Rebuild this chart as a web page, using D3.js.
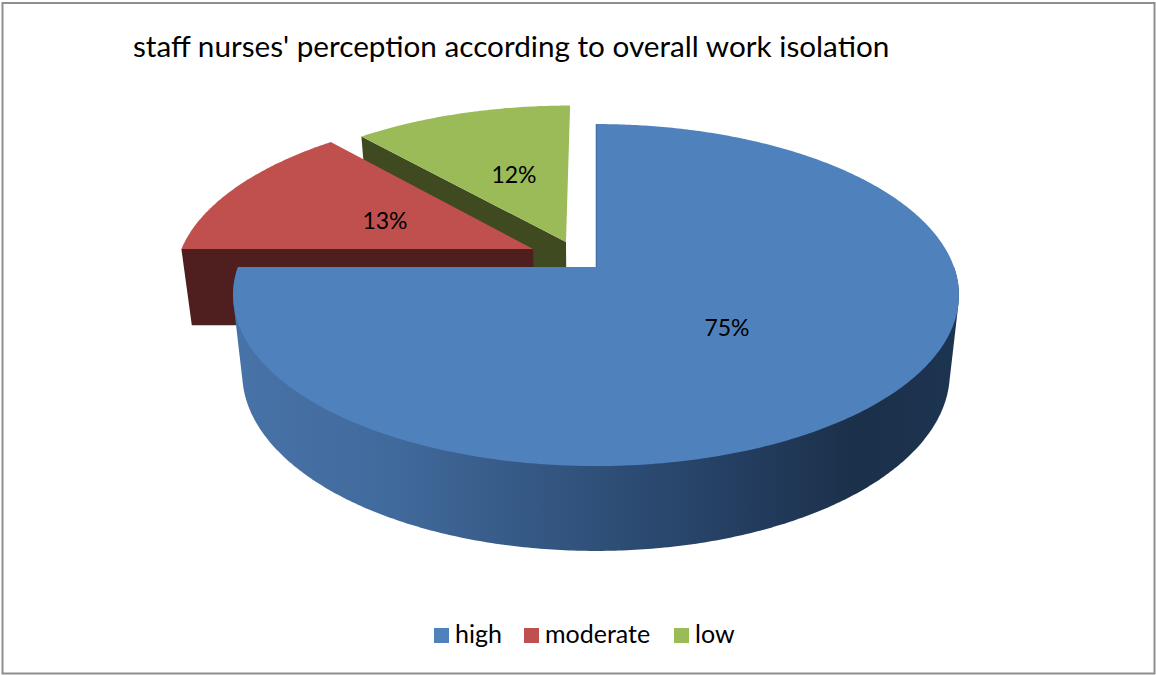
<!DOCTYPE html>
<html><head><meta charset="utf-8">
<script src="https://cdn.jsdelivr.net/npm/d3@7/dist/d3.min.js"></script>
<style>html,body{margin:0;padding:0;background:#fff}svg{display:block}text{font-family:Lato,"Noto Sans",sans-serif;fill:#000}</style>
</head><body><svg id="c" width="1156" height="675"></svg>
<script>
const chartTitle = "staff nurses' perception according to overall work isolation";
const categories = ["high", "moderate", "low"];
const values = [75, 13.4, 11.6];
const labels = ["75%", "13%", "12%"];
const topColors = ["#4f81bd", "#c0504d", "#9bbb59"];
const wallColors = ["#1c3250", "#4e1f1e", "#3f4a21"];
const explodeU = [0, -0.179, -0.086];
const explodeV = [0, 0.11, 0.154];
const labelPos = [[727, 336], [385, 229], [514, 183]];
const legendX = [434, 524, 674];

const W = 1156, H = 675, TAU = Math.PI * 2;
const svg = d3.select("#c");
const defs = svg.append("defs");
const grad = defs.append("linearGradient").attr("id", "wall").attr("x1", 0).attr("x2", 1).attr("y1", 0).attr("y2", 0);
[[0, "#4873a8"], [0.22, "#416a9c"], [0.5, "#2f5079"], [0.72, "#233c5e"], [0.86, "#1b3049"], [1, "#1d3451"]]
  .forEach(s => grad.append("stop").attr("offset", s[0]).attr("stop-color", s[1]));

svg.append("rect").attr("x", 2.5).attr("y", 3).attr("width", 1152).attr("height", 670.5)
  .attr("fill", "#fff").attr("stroke", "#8e8e8e").attr("stroke-width", 2);

// perspective projection of a unit disc
const K = 0.164;
const topP = { cx: 596, y0: 267, A: 358, B: 166.4 };
const botP = { cx: 596, y0: 344, A: 349, B: 173 };
const project = (p, u, v) => [p.cx + p.A * u / (1 + K * v), p.y0 - p.B * v / (1 + K * v)];

const pie = d3.pie().sort(null).value(d => d);
const arcs = pie(values);

function rimPoints(p, a0, a1, i) {
  const n = Math.max(2, Math.ceil((a1 - a0) / 0.01));
  return d3.range(n + 1).map(j => {
    const a = a0 + (a1 - a0) * j / n;
    return project(p, Math.sin(a) + explodeU[i], Math.cos(a) + explodeV[i]);
  });
}
const apex = (p, i) => project(p, explodeU[i], explodeV[i]);
const line = d3.line().curve(d3.curveLinearClosed);

function sector(i) {
  const d = arcs[i];
  return line([apex(topP, i), ...rimPoints(topP, d.startAngle, d.endAngle, i)]);
}

// green: cut face facing the viewer
{
  const a = arcs[2].startAngle;
  const rim = rimPoints(topP, a, a, 2)[0], rimB = rimPoints(botP, a, a, 2)[0];
  svg.append("path").attr("d", line([apex(topP, 2), rim, rimB, apex(botP, 2)])).attr("fill", wallColors[2]);
  svg.append("path").attr("d", sector(2)).attr("fill", topColors[2]);
}
// red: cut face facing the viewer
{
  const a = arcs[1].startAngle;
  const rim = rimPoints(topP, a, a, 1)[0], rimB = rimPoints(botP, a, a, 1)[0];
  svg.append("path").attr("d", line([apex(topP, 1), rim, rimB, apex(botP, 1)])).attr("fill", wallColors[1]);
  svg.append("path").attr("d", sector(1)).attr("fill", topColors[1]);
}
// blue: curved outer wall and top
{
  const a0 = TAU * 0.25, a1 = arcs[0].endAngle;
  const hull = d3.polygonHull([...rimPoints(topP, a0, a1, 0), ...rimPoints(botP, a0, a1, 0)]);
  svg.append("path").attr("d", line(hull)).attr("fill", "url(#wall)");
  svg.append("path").attr("d", sector(0)).attr("fill", topColors[0]);
  const edge = rimPoints(topP, 0, 0, 0)[0];
  svg.append("path").attr("d", d3.line()([apex(topP, 0), edge])).attr("stroke", wallColors[0]).attr("stroke-width", 0.7).attr("stroke-opacity", 0.6).attr("fill", "none");
}

labels.forEach((t, i) => svg.append("text").attr("x", labelPos[i][0]).attr("y", labelPos[i][1])
  .attr("text-anchor", "middle").attr("font-size", 23).text(t));

svg.append("text").attr("x", 133).attr("y", 57).attr("font-size", 29.7).text(chartTitle);

categories.forEach((c, i) => {
  svg.append("rect").attr("x", legendX[i]).attr("y", 628).attr("width", 15).attr("height", 15).attr("fill", topColors[i]);
  svg.append("text").attr("x", legendX[i] + 21).attr("y", 643).attr("font-size", 25).text(c);
});
</script></body></html>
